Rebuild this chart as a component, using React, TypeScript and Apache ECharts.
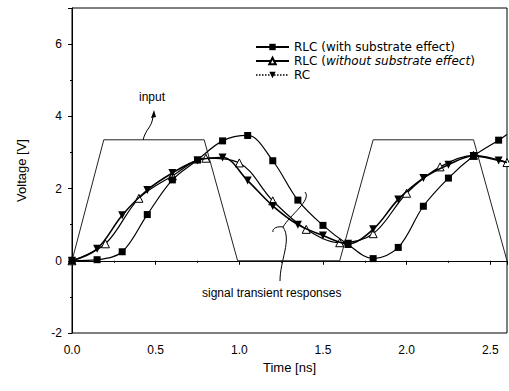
import React, { useEffect, useRef } from "react";
import * as echarts from "echarts";

const inputTime = [0, 0.19, 0.79, 0.99, 1.6, 1.8, 2.4, 2.6];
const inputVolt = [0, 3.35, 3.35, 0, 0, 3.35, 3.35, 0];

const rlcTime = [0, 0.15, 0.3, 0.45, 0.6, 0.75, 0.9, 1.05, 1.2, 1.35, 1.5, 1.65, 1.8, 1.95, 2.1, 2.25, 2.4, 2.55];
const rlcVolt = [0, 0.03, 0.25, 1.28, 2.24, 2.79, 3.32, 3.47, 2.77, 1.68, 0.98, 0.45, 0.06, 0.37, 1.51, 2.29, 2.9, 3.34];

const rlcNoSubTime = [0, 0.2, 0.4, 0.6, 0.8, 1.0, 1.2, 1.4, 1.6, 1.8, 2.0, 2.2, 2.4, 2.6];
const rlcNoSubVolt = [0, 0.47, 1.73, 2.35, 2.84, 2.71, 1.66, 0.87, 0.5, 0.75, 1.87, 2.6, 2.92, 2.72];

const rcTime = [0, 0.15, 0.3, 0.45, 0.6, 0.75, 0.9, 1.05, 1.2, 1.35, 1.5, 1.65, 1.8, 1.95, 2.1, 2.25, 2.4, 2.55];
const rcVolt = [0, 0.33, 1.26, 1.96, 2.43, 2.78, 2.86, 2.22, 1.52, 1.0, 0.7, 0.47, 0.87, 1.7, 2.29, 2.66, 2.9, 2.78];

const yTicks = { min: -2, max: 7, interval: 2 };
const xTicks = { min: 0, max: 2.6, interval: 0.5 };

const seriesNames = ["RLC (with substrate effect)", "RLC (without substrate effect)", "RC"];

const FONT = "Liberation Sans, Arial, sans-serif";
const LEGEND_FONT = "DejaVu Sans, sans-serif";

const zip = (a: number[], b: number[]) => a.map((v, i) => [v, b[i]]);

export default function App() {
  const ref = useRef<HTMLDivElement>(null);
  useEffect(() => {
    if (!ref.current) return;
    const chart = echarts.init(ref.current, undefined, { renderer: "svg" });
    const rlcData: any[] = zip(rlcTime, rlcVolt);
    rlcData.push({ value: [2.6, 3.5], symbol: "none" });
    const rcData: any[] = zip(rcTime, rcVolt);
    rcData.push({ value: [2.6, 2.72], symbol: "none" });
    chart.setOption({
      animation: false,
      backgroundColor: "#fff",
      textStyle: { fontFamily: FONT, color: "#000" },
      grid: { left: 72, right: 2, top: 8, bottom: 58, show: true, borderColor: "#000", borderWidth: 1, backgroundColor: "transparent" },
      legend: {
        orient: "vertical",
        left: 250,
        top: 35,
        itemWidth: 33,
        itemHeight: 8,
        itemGap: 0,
        textStyle: {
          fontFamily: LEGEND_FONT,
          fontSize: 12,
          lineHeight: 14,
          color: "#000",
          rich: { i: { fontStyle: "italic", fontFamily: LEGEND_FONT, fontSize: 12, lineHeight: 14, color: "#000" } },
        },
        formatter: (name: string) =>
          name === seriesNames[1] ? "RLC ({i|without substrate effect})" : name,
        data: [
          { name: seriesNames[0] },
          { name: seriesNames[1] },
          { name: seriesNames[2], lineStyle: { type: "dotted", width: 1.5 } },
        ],
      },
      xAxis: {
        type: "value",
        min: xTicks.min,
        max: xTicks.max,
        interval: xTicks.interval,
        name: "Time [ns]",
        nameLocation: "middle",
        nameGap: 26,
        nameTextStyle: { fontSize: 13, fontFamily: FONT, color: "#000" },
        axisLine: { lineStyle: { color: "#000", width: 1 } },
        axisTick: { show: true, inside: false, length: 4, lineStyle: { color: "#000" } },
        minorTick: { show: true, splitNumber: 2, length: 2, lineStyle: { color: "#000" } },
        axisLabel: {
          fontSize: 12,
          fontFamily: FONT,
          color: "#000",
          margin: 11,
          showMaxLabel: false,
          formatter: (v: number) => v.toFixed(1),
        },
        splitLine: { show: false },
      },
      yAxis: {
        type: "value",
        min: yTicks.min,
        max: yTicks.max,
        interval: yTicks.interval,
        name: "Voltage [V]",
        nameLocation: "middle",
        nameGap: 44,
        nameTextStyle: { fontSize: 13, fontFamily: FONT, color: "#000" },
        axisLine: { lineStyle: { color: "#000", width: 1 } },
        axisTick: { show: true, inside: false, length: 4, lineStyle: { color: "#000" } },
        minorTick: { show: true, splitNumber: 2, length: 2, lineStyle: { color: "#000" } },
        axisLabel: { fontSize: 12, fontFamily: FONT, color: "#000", margin: 10, showMaxLabel: false },
        splitLine: { show: false },
      },
      series: [
        {
          name: "input",
          type: "line",
          data: zip(inputTime, inputVolt),
          symbol: "none",
          lineStyle: { color: "#222", width: 1 },
          z: 1,
        },
        {
          name: seriesNames[0],
          type: "line",
          data: rlcData,
          smooth: 0.35,
          symbol: "rect",
          symbolSize: 7,
          color: "#000",
          itemStyle: { color: "#000" },
          lineStyle: { color: "#000", width: 1.2 },
          z: 3,
        },
        {
          name: seriesNames[1],
          type: "line",
          data: zip(rlcNoSubTime, rlcNoSubVolt),
          smooth: 0.35,
          symbol: "triangle",
          symbolSize: 8,
          color: "#000",
          itemStyle: { color: "#fff", borderColor: "#000", borderWidth: 1 },
          lineStyle: { color: "#000", width: 1.2 },
          z: 2,
        },
        {
          name: seriesNames[2],
          type: "line",
          data: rcData,
          smooth: 0.35,
          symbol: "triangle",
          symbolRotate: 180,
          symbolSize: 8,
          color: "#000",
          itemStyle: { color: "#000" },
          lineStyle: { color: "#000", width: 1.6 },
          z: 4,
        },
      ],
      graphic: [
        { type: "text", left: 139, top: 91, style: { text: "input", font: `12px ${FONT}`, fill: "#000" } },
        {
          type: "bezierCurve",
          shape: { x1: 143, y1: 140, cpx1: 146, cpy1: 128, cpx2: 152, cpy2: 128, x2: 153, y2: 116 },
          style: { stroke: "#000", lineWidth: 1, fill: "none" },
        },
        {
          type: "polygon",
          shape: { points: [[154, 110], [151, 118], [156, 117]] },
          style: { fill: "#000" },
        },
        {
          type: "bezierCurve",
          shape: { x1: 305, y1: 192, cpx1: 312, cpy1: 200, cpx2: 290, cpy2: 215, x2: 283, y2: 227 },
          style: { stroke: "#000", lineWidth: 1, fill: "none" },
        },
        {
          type: "bezierCurve",
          shape: { x1: 283, y1: 227, cpx1: 278, cpy1: 226, cpx2: 272, cpy2: 228, x2: 273, y2: 232 },
          style: { stroke: "#000", lineWidth: 1, fill: "none" },
        },
        {
          type: "bezierCurve",
          shape: { x1: 283, y1: 227, cpx1: 292, cpy1: 240, cpx2: 280, cpy2: 260, x2: 280, y2: 281 },
          style: { stroke: "#000", lineWidth: 1, fill: "none" },
        },
        {
          type: "text",
          left: 202,
          top: 287,
          style: { text: "signal transient responses", font: `12px ${FONT}`, fill: "#000" },
        },
      ],
    });
    return () => chart.dispose();
  }, []);
  return <div ref={ref} style={{ width: 509, height: 391, position: "absolute", left: 0, top: 0, background: "#fff" }} />;
}
